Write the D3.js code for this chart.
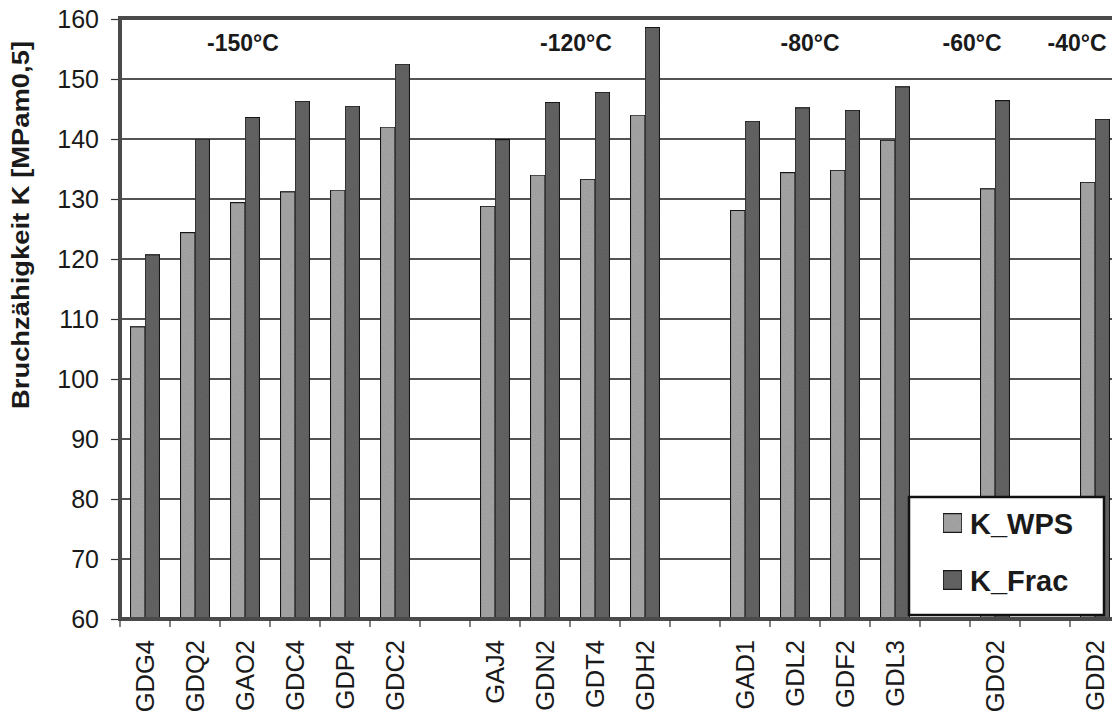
<!DOCTYPE html>
<html>
<head>
<meta charset="utf-8">
<script src="https://cdn.jsdelivr.net/npm/d3@7"></script>
<style>
  html, body { margin: 0; padding: 0; background: #fff; }
  svg { display: block; font-family: "Liberation Sans", Arial, sans-serif; }
</style>
</head>
<body>
<svg id="chart" width="1112" height="721"></svg>
<script>
// ---- data ----
const categories = ["GDG4","GDQ2","GAO2","GDC4","GDP4","GDC2","","GAJ4","GDN2","GDT4","GDH2","","GAD1","GDL2","GDF2","GDL3","","GDO2","","GDD2"];
const seriesNames = ["K_WPS", "K_Frac"];
const kWPS  = [108.7,124.4,129.4,131.2,131.5,142.0,null,128.8,134.0,133.3,144.0,null,128.1,134.4,134.8,139.8,null,131.7,null,132.8];
const kFrac = [120.7,140.0,143.6,146.3,145.5,152.5,null,139.9,146.1,147.8,158.6,null,143.0,145.2,144.8,148.7,null,146.4,null,143.3];
const yTicks = [60,70,80,90,100,110,120,130,140,150,160];
const tempLabels = ["-150°C","-120°C","-80°C","-60°C","-40°C"];
const yTitle = "Bruchzähigkeit K [MPam0,5]";

// ---- layout ----
const tempLabelSlot = [2.46, 9.12, 13.8, 17.04, 19.14];
const P = { left: 120, right: 1120, top: 19, bottom: 619 };
const colors = { K_WPS: "#ababab", K_Frac: "#686868" };

const svg = d3.select("#chart");
const slots = categories.map((c, i) => i);

const x = d3.scaleBand().domain(slots).range([P.left, P.right]).padding(0);
const xi = d3.scaleBand().domain(seriesNames).range([0, x.bandwidth()]).paddingInner(0).paddingOuter(0.72);
const y = d3.scaleLinear().domain([60, 160]).range([P.bottom, P.top]);

// texture filter for the scanned look
const defs = svg.append("defs");
const f = defs.append("filter").attr("id", "grain").attr("x", 0).attr("y", 0).attr("width", 1).attr("height", 1);
f.append("feTurbulence").attr("type", "fractalNoise").attr("baseFrequency", 0.9).attr("numOctaves", 1).attr("seed", 3).attr("result", "noise");
f.append("feColorMatrix").attr("in", "noise").attr("type", "matrix")
  .attr("values", "0 0 0 0 0  0 0 0 0 0  0 0 0 0 0  0 0 0 0.25 0").attr("result", "dots");
f.append("feComposite").attr("in", "dots").attr("in2", "SourceGraphic").attr("operator", "in").attr("result", "d2");
f.append("feMerge").selectAll("feMergeNode").data(["SourceGraphic", "d2"]).enter()
  .append("feMergeNode").attr("in", d => d);

// gridlines
svg.append("g").selectAll("line").data(yTicks.filter(t => t > 60 && t < 160)).enter()
  .append("line")
  .attr("x1", P.left).attr("x2", P.right)
  .attr("y1", d => y(d)).attr("y2", d => y(d))
  .attr("stroke", "#1a1a1a").attr("stroke-width", 1.6);

// bars
const rows = categories.map((c, i) => ({ i, c, K_WPS: kWPS[i], K_Frac: kFrac[i] })).filter(r => r.c);
const g = svg.append("g");
rows.forEach(r => {
  seriesNames.forEach(s => {
    g.append("rect")
      .attr("x", x(r.i) + xi(s))
      .attr("y", y(r[s]))
      .attr("width", xi.bandwidth())
      .attr("height", y(60) - y(r[s]))
      .attr("fill", colors[s])
      .attr("stroke", "#1a1a1a").attr("stroke-width", 1.2)
      .attr("filter", "url(#grain)");
  });
});

// frame
svg.append("rect")
  .attr("x", P.left).attr("y", P.top - 1)
  .attr("width", P.right - P.left).attr("height", P.bottom - P.top + 1)
  .attr("fill", "none").attr("stroke", "#4a4a4a").attr("stroke-width", 4);

// y axis
const yAxis = d3.axisLeft(y).tickValues(yTicks).tickSize(7).tickPadding(12).tickFormat(d3.format("d"));
const ya = svg.append("g").attr("transform", `translate(${P.left - 2},0)`).call(yAxis);
ya.select(".domain").remove();
ya.selectAll(".tick line").attr("stroke", "#333").attr("stroke-width", 1.2);
ya.selectAll(".tick text").attr("font-size", 25).attr("fill", "#1a1a1a").attr("font-family", "Liberation Sans, Arial, sans-serif");

// x axis: ticks at band boundaries, rotated labels
const xa = svg.append("g");
xa.selectAll("line").data(d3.range(categories.length + 1)).enter()
  .append("line")
  .attr("x1", d => P.left + d * x.step()).attr("x2", d => P.left + d * x.step())
  .attr("y1", P.bottom + 1).attr("y2", P.bottom + 8)
  .attr("stroke", "#333").attr("stroke-width", 1.2);
xa.selectAll("text").data(rows).enter()
  .append("text")
  .attr("transform", d => `translate(${x(d.i) + x.bandwidth() / 2 + 9},${P.bottom + 21}) rotate(-90)`)
  .attr("text-anchor", "end")
  .attr("font-size", 25.5)
  .attr("fill", "#1a1a1a")
  .text(d => d.c);

// y title
svg.append("text")
  .attr("transform", `translate(29,${(P.top + P.bottom) / 2 - 94}) rotate(-90)`)
  .attr("text-anchor", "middle")
  .attr("font-size", 24).attr("font-weight", "bold").attr("fill", "#1a1a1a")
  .attr("textLength", 368).attr("lengthAdjust", "spacingAndGlyphs")
  .text(yTitle);

// temperature labels
svg.append("g").selectAll("text").data(tempLabels).enter()
  .append("text")
  .attr("x", (d, i) => P.left + tempLabelSlot[i] * x.step())
  .attr("y", 51)
  .attr("text-anchor", "middle")
  .attr("font-size", 23).attr("font-weight", "bold").attr("fill", "#1a1a1a")
  .text(d => d);

// legend
const L = { x: 909, y: 497, w: 195, h: 118 };
const lg = svg.append("g");
lg.append("rect").attr("x", L.x).attr("y", L.y).attr("width", L.w).attr("height", L.h)
  .attr("fill", "#fff").attr("stroke", "#111").attr("stroke-width", 2.5);
seriesNames.forEach((s, i) => {
  const cy = L.y + 26 + i * 57;
  lg.append("rect").attr("x", L.x + 34).attr("y", cy - 9.5).attr("width", 19).attr("height", 19)
    .attr("fill", colors[s]).attr("stroke", "#1a1a1a").attr("stroke-width", 1.5).attr("filter", "url(#grain)");
  lg.append("text").attr("x", L.x + 61).attr("y", cy + 11)
    .attr("font-size", 29).attr("font-weight", "bold").attr("fill", "#1a1a1a")
    .text(s);
});
</script>
</body>
</html>
